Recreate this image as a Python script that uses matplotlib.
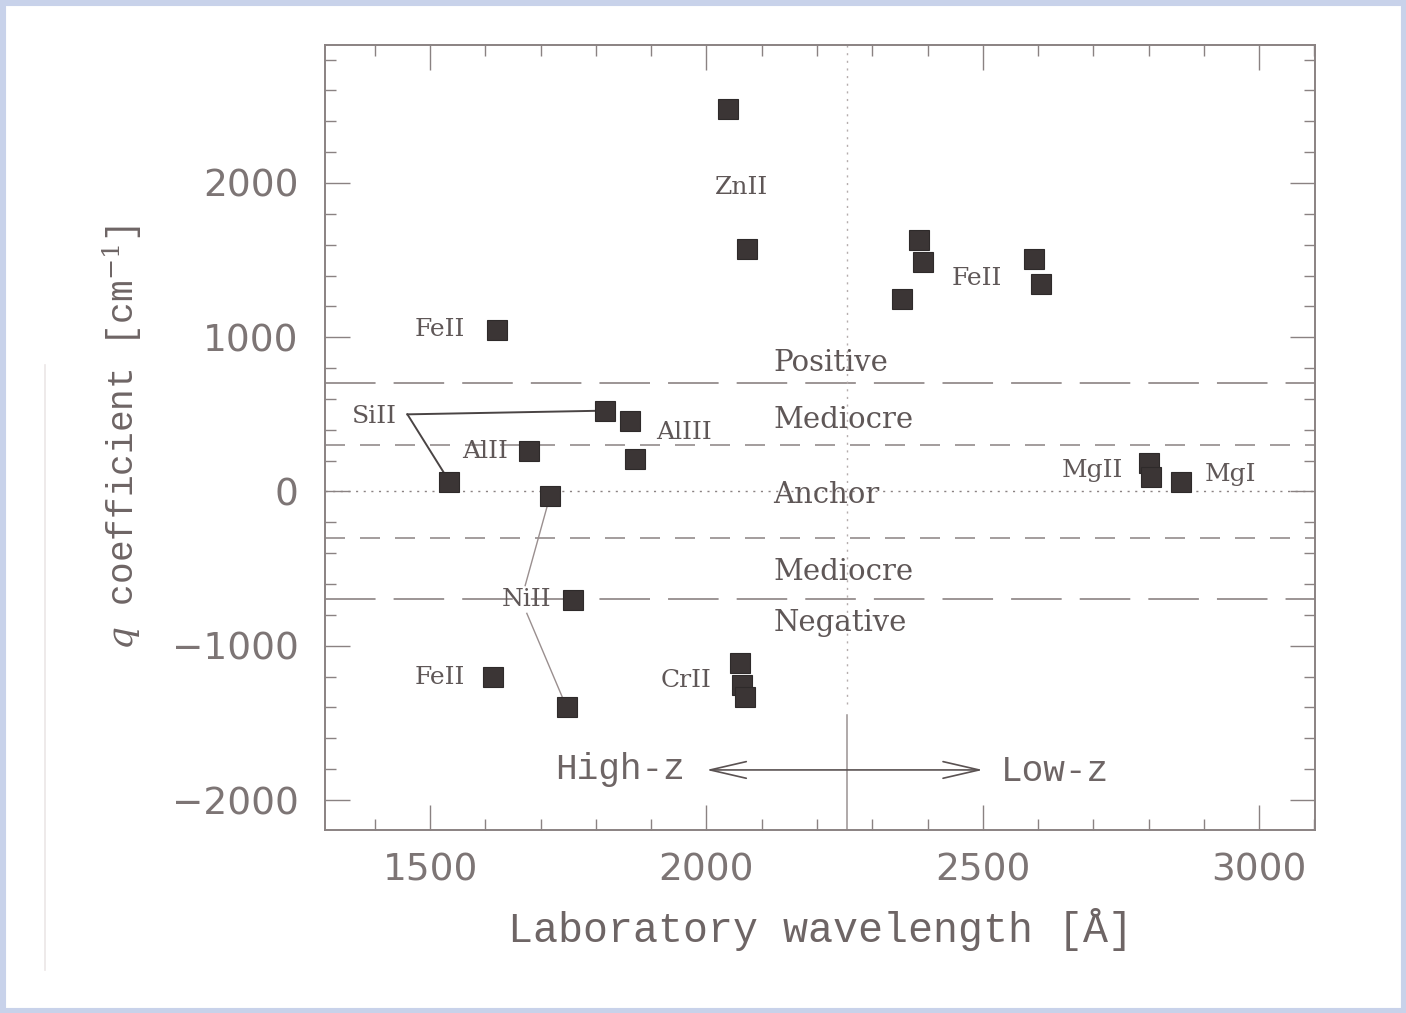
import matplotlib
matplotlib.use("Agg")
import matplotlib.pyplot as plt
from matplotlib.ticker import MultipleLocator
from matplotlib.patches import Rectangle
from matplotlib.lines import Line2D

# laboratory wavelength [A] and q coefficient [cm^-1]
lam = [2039, 2073,                          # ZnII
       2385, 2392, 2354, 2592, 2606,        # FeII (low-z)
       1621, 1614,                          # FeII 1611 / 1608
       1817, 1535,                          # SiII
       1862, 1870,                          # AlIII
       1679,                                # AlII
       1717, 1759, 1747,                    # NiII
       2061, 2064, 2070,                    # CrII
       2801, 2805,                          # MgII
       2858]                                # MgI
q = [2478, 1570,
     1630, 1490, 1246, 1507, 1343,
     1047, -1201,
     524, 64,
     457, 211,
     263,
     -29, -703, -1399,
     -1114, -1254, -1330,
     183, 96,
     64]

ion_names = ["ZnII", "FeII", "FeII", "SiII", "AlII", "AlIII",
             "MgII", "MgI", "NiII", "FeII", "CrII"]
ion_x = [2064, 2490, 1518, 1400, 1600, 1960, 2698, 2948, 1674, 1517, 1964]
ion_y = [1972, 1382, 1047, 485, 258, 380, 139, 107, -703, -1207, -1222]

band_names = ["Positive", "Mediocre", "Anchor", "Mediocre", "Negative"]
band_y = [782, 412, -74, -573, -904]

# SiII and NiII connector lines (label -> points)
sill_x = [[1459, 1817], [1459, 1535]]
sill_y = [[500, 524], [500, 64]]
niil_x = [[1717, 1672], [1675, 1747]]
niil_y = [[-29, -610], [-790, -1399]]

z_split = 2255

TXT = "#6e6565"
TICK = "#7d7575"
AX = "#8a8282"
MK = "#3b3535"

plt.rcParams['mathtext.fontset'] = 'dejavuserif'

fig = plt.figure(figsize=(14.06, 10.13), dpi=100)
ax = fig.add_axes([0.2312, 0.1807, 0.7041, 0.775])

# category boundaries
ax.axhline(700, color="#948c8c", lw=1.3, dashes=(28, 10), zorder=1)
ax.axhline(-700, color="#948c8c", lw=1.3, dashes=(28, 10), zorder=1)
ax.axhline(300, color="#948c8c", lw=1.2, dashes=(12, 9), zorder=1)
ax.axhline(-300, color="#948c8c", lw=1.2, dashes=(12, 9), zorder=1)
ax.axhline(0, color=AX, lw=1.0, dashes=(1.5, 4), zorder=1)

# high-z / low-z split
ax.plot([z_split, z_split], [2895, -1380], color="#b5adad", lw=1.0,
        dashes=(1.5, 4), zorder=1)
ax.plot([z_split, z_split], [-1450, -2194], color="#9a9292", lw=1.1, zorder=1)
ax.annotate("", xy=(2000, -1805), xytext=(2500, -1805),
            arrowprops=dict(arrowstyle="<->,head_length=1.3,head_width=0.3",
                            color="#5a5252", lw=1.2, mutation_scale=20,
                            shrinkA=0, shrinkB=0))
ax.text(1844, -1800, "High-z", family="Liberation Mono", fontsize=26,
        color=TXT, ha="center", va="center")
ax.text(2630, -1818, "Low-z", family="Liberation Mono", fontsize=26,
        color=TXT, ha="center", va="center")

for xs, ys in zip(sill_x, sill_y):
    ax.plot(xs, ys, color="#4a4444", lw=1.4, zorder=2)
for xs, ys in zip(niil_x, niil_y):
    ax.plot(xs, ys, color="#9a8f8f", lw=1.0, zorder=2)

ax.plot(lam, q, "s", ms=15, color=MK, mec="#2e2a2a", mew=0.8, zorder=3)

for name, x, y in zip(ion_names, ion_x, ion_y):
    ax.text(x, y, name, family="DejaVu Serif", fontsize=18, color="#5f5757",
            ha="center", va="center", zorder=4)
for name, y in zip(band_names, band_y):
    ax.text(2121, y, name, family="DejaVu Serif", fontsize=21, color="#5f5757",
            ha="left", va="baseline", zorder=4)

ax.set_xlim(1310, 3101)
ax.set_ylim(-2194, 2895)
ax.xaxis.set_major_locator(MultipleLocator(500))
ax.xaxis.set_minor_locator(MultipleLocator(100))
ax.yaxis.set_major_locator(MultipleLocator(1000))
ax.yaxis.set_minor_locator(MultipleLocator(200))
ax.tick_params(which="both", direction="in", top=True, right=True,
               color=AX, width=1.0)
ax.tick_params(which="major", length=18)
ax.tick_params(which="minor", length=8)
ax.tick_params(axis="x", pad=16, labelsize=27, labelcolor=TICK)
ax.tick_params(axis="y", pad=19, labelsize=27, labelcolor=TICK)
for lab in ax.get_xticklabels() + ax.get_yticklabels():
    lab.set_family("DejaVu Sans")
ax.yaxis.set_major_formatter(
    matplotlib.ticker.FuncFormatter(lambda v, p: ("\u2212" if v < 0 else "") + "%d" % abs(v)))
for s in ax.spines.values():
    s.set_color(AX)
    s.set_linewidth(1.4)

ax.set_xlabel("Laboratory wavelength [\u00c5]", family="Liberation Mono",
              fontsize=30, color=TXT, labelpad=14)
ax.set_ylabel(r"$q$ coefficient [cm$^{-1}$]", family="Liberation Mono",
              fontsize=26, color=TXT, labelpad=20)

# scanned-page frame
fig.patches.append(Rectangle((0, 0), 1, 1, transform=fig.transFigure,
                             fill=False, edgecolor="#c8d2ea", lw=8))
fig.lines.append(Line2D([45 / 1406, 45 / 1406], [1 - 365 / 1013, 1 - 970 / 1013],
                        transform=fig.transFigure, color="#ebe6e6", lw=1.2))

fig.savefig("out.png", dpi=100)
